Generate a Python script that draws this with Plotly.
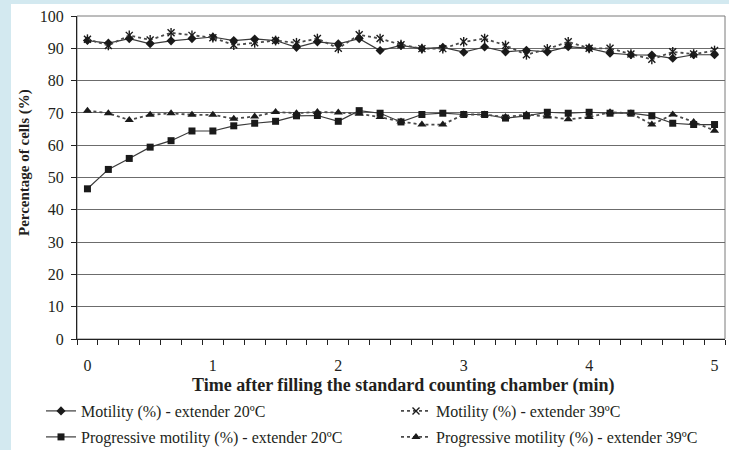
import plotly.graph_objects as go

# Sampling times (seconds after filling the chamber)
time_s = [0, 10, 20, 30, 40, 50, 60, 70, 80, 90, 100, 110, 120, 130, 140, 150,
          160, 170, 180, 190, 200, 210, 220, 230, 240, 250, 260, 270, 280, 290, 300]
time_min = [t / 60 for t in time_s]

motility_20 = [92.4, 91.6, 93.0, 91.4, 92.3, 93.0, 93.5, 92.4, 92.9, 92.4, 90.3,
               92.0, 91.4, 93.0, 89.3, 90.9, 89.9, 90.3, 88.8, 90.4, 88.9, 89.4,
               88.9, 90.5, 90.0, 88.5, 88.0, 87.9, 86.9, 88.0, 88.0]
motility_39 = [92.8, 90.9, 94.0, 92.6, 94.8, 94.0, 93.3, 91.0, 91.7, 92.4, 91.7,
               93.0, 90.0, 94.2, 93.0, 91.1, 89.9, 89.9, 92.0, 93.0, 90.9, 88.0,
               89.8, 92.0, 90.0, 90.0, 88.2, 86.6, 88.9, 88.2, 89.3]
progressive_20 = [46.5, 52.5, 55.9, 59.4, 61.4, 64.4, 64.4, 66.0, 66.8, 67.4, 69.1,
                  69.2, 67.4, 70.7, 69.9, 67.2, 69.5, 69.9, 69.5, 69.5, 68.4, 69.1,
                  70.2, 69.9, 70.2, 69.9, 69.9, 69.1, 66.8, 66.4, 66.4]
progressive_39 = [70.7, 69.9, 67.8, 69.4, 69.9, 69.4, 69.4, 68.2, 68.9, 70.3, 69.9,
                  70.3, 70.1, 69.7, 68.7, 67.3, 66.4, 66.4, 69.5, 69.5, 68.7, 69.5,
                  68.9, 68.0, 68.7, 70.2, 69.9, 66.4, 69.5, 67.2, 64.5]

x_ticks = [0, 1, 2, 3, 4, 5]
y_ticks = [0, 10, 20, 30, 40, 50, 60, 70, 80, 90, 100]

names = [
    "Motility (%) - extender 20ºC",
    "Motility (%) - extender 39ºC",
    "Progressive motility (%) - extender 20ºC",
    "Progressive motility (%) - extender 39ºC",
]
x_title = "Time after filling the standard counting chamber (min)"
y_title = "Percentage of cells (%)"

TEXT = "#231f20"
SERIF = "Liberation Serif, Times New Roman, serif"
INK = "#1a1a1a"

fig = go.Figure()

solid = dict(color="#3a3a3a", width=1.2)
dotted = dict(color="#4a4a4a", width=1.8, dash="dot")

fig.add_trace(go.Scatter(
    x=time_min, y=motility_20, name=names[0], mode="lines+markers",
    line=solid, marker=dict(symbol="diamond", size=7, color=INK),
    legend="legend"))
fig.add_trace(go.Scatter(
    x=time_min, y=motility_39, name=names[1], mode="lines+markers",
    line=dotted,
    marker=dict(symbol="x-thin-open", size=7, color=INK, line=dict(color=INK, width=1.4)),
    legend="legend2"))
# vertical stroke that turns the x marker into a star
fig.add_trace(go.Scatter(
    x=time_min, y=motility_39, mode="markers", showlegend=False, hoverinfo="skip",
    marker=dict(symbol="line-ns-open", size=7, color=INK, line=dict(color=INK, width=1.4))))
fig.add_trace(go.Scatter(
    x=time_min, y=progressive_20, name=names[2], mode="lines+markers",
    line=solid, marker=dict(symbol="square", size=7, color=INK),
    legend="legend3"))
fig.add_trace(go.Scatter(
    x=time_min, y=progressive_39, name=names[3], mode="lines+markers",
    line=dotted, marker=dict(symbol="triangle-up", size=8, color=INK),
    legend="legend4"))

L, R, T, B = 77, 4, 16, 111
W, H = 729, 450
pw, ph = W - L - R, H - T - B


def px_x(px):
    return (px - L) / pw


def px_y(py):
    return (H - B - py) / ph


legend_common = dict(
    bgcolor="rgba(0,0,0,0)", font=dict(family=SERIF, size=16, color=TEXT),
    xanchor="left", yanchor="middle")

fig.update_layout(
    width=W, height=H,
    margin=dict(l=L, r=R, t=T, b=B, autoexpand=False),
    paper_bgcolor="white", plot_bgcolor="white",
    font=dict(family=SERIF, color=TEXT),
    legend=dict(x=px_x(41), y=px_y(411), **legend_common),
    legend2=dict(x=px_x(396), y=px_y(411), **legend_common),
    legend3=dict(x=px_x(41), y=px_y(437), **legend_common),
    legend4=dict(x=px_x(396), y=px_y(437), **legend_common),
    xaxis=dict(
        range=[-5 / 60, 305 / 60], tickvals=x_ticks,
        ticktext=[str(v) for v in x_ticks],
        ticks="outside", ticklen=5, tickcolor="rgba(0,0,0,0)",
        ticklabelstandoff=7, automargin=False,
        minor=dict(tick0=-5 / 60, dtick=10 / 60, ticks="outside", ticklen=5,
                   tickcolor="#222", tickwidth=1, showgrid=False),
        showgrid=False, zeroline=False,
        showline=True, linecolor="#222", linewidth=1,
        tickfont=dict(family=SERIF, size=16, color=TEXT),
    ),
    yaxis=dict(
        range=[0, 100], tickvals=y_ticks, automargin=False,
        ticks="outside", ticklen=5, tickcolor="#222", ticklabelstandoff=4,
        showgrid=True, gridcolor="#6c6c6c", gridwidth=1,
        zeroline=False, showline=True, linecolor="#222", linewidth=1,
        tickfont=dict(family=SERIF, size=16, color=TEXT),
    ),
    annotations=[
        dict(text=f"<b>{x_title}</b>", xref="paper", yref="paper",
             x=px_x(403), y=px_y(385), xanchor="center", yanchor="middle",
             showarrow=False, font=dict(family=SERIF, size=18, color=TEXT)),
        dict(text=f"<b>{y_title}</b>", xref="paper", yref="paper",
             x=px_x(24), y=px_y(163), xanchor="center", yanchor="middle",
             textangle=-90, showarrow=False,
             font=dict(family=SERIF, size=15, color=TEXT)),
    ],
    shapes=[
        # grey frame around the plotting area
        dict(type="rect", xref="paper", yref="paper", x0=0, x1=1, y0=0, y1=1,
             line=dict(color="#7a7a7a", width=1), layer="below"),
        # light blue page strips on the left and top
        dict(type="rect", xref="paper", yref="paper",
             x0=px_x(0), x1=px_x(11), y0=px_y(H), y1=px_y(0),
             fillcolor="#d3e9f0", line=dict(width=0), layer="below"),
        dict(type="rect", xref="paper", yref="paper",
             x0=px_x(0), x1=px_x(W), y0=px_y(4), y1=px_y(0),
             fillcolor="#d3e9f0", line=dict(width=0), layer="below"),
    ],
)

fig.write_html("out.html")
